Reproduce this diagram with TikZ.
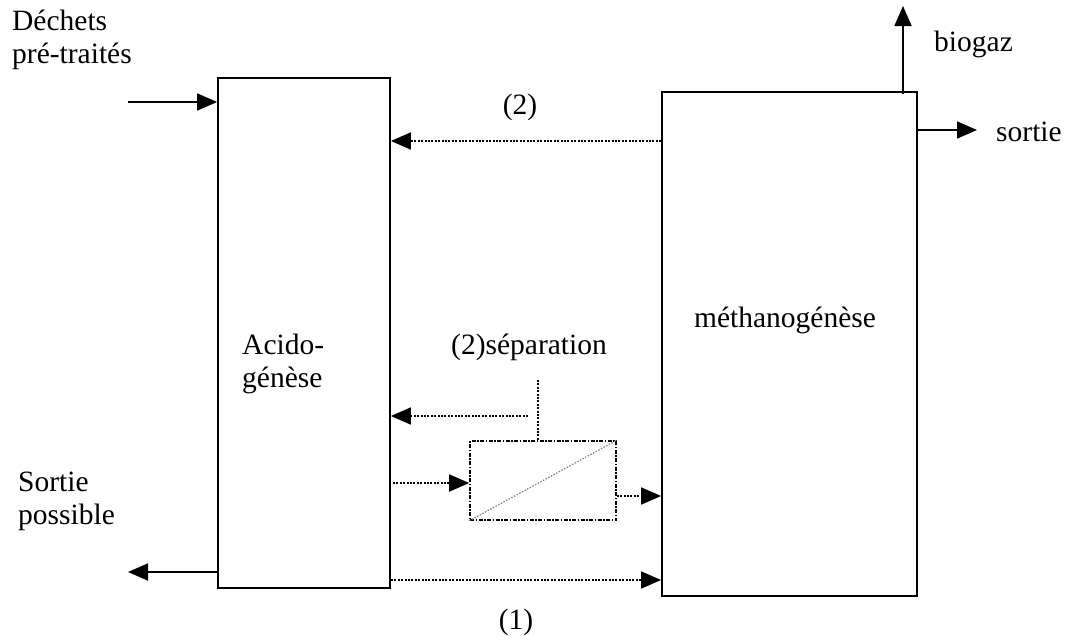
\documentclass[tikz,border=0pt]{standalone}
\usepackage{fontspec}
\setmainfont{Liberation Serif}
\usetikzlibrary{arrows.meta}
\begin{document}
\begin{tikzpicture}[x=1pt,y=-1pt,
  lbl/.style={font=\fontsize{29.5}{33}\selectfont, inner sep=0pt, align=left},
  solidline/.style={line width=1.8pt, -{Triangle[length=20pt,width=17pt]}},
  dotline/.style={line width=1.8pt, dash pattern=on 2pt off 1.4pt, -{Triangle[length=20pt,width=17pt]}},
  box/.style={draw, line width=1.8pt, inner sep=0pt}]
\useasboundingbox (0,0) rectangle (1071,637);
% boxes
\node[box, minimum width=172pt, minimum height=510pt] (acido) at (304,333) {};
\node[box, minimum width=255pt, minimum height=504pt] (metha) at (789.5,344) {};
\node[draw, line width=1.6pt, dash pattern=on 4pt off 1.5pt on 1.5pt off 1.5pt, minimum width=146pt, minimum height=79pt, inner sep=0pt] (sep) at (543,480.5) {};
\draw[gray, line width=1.2pt, dash pattern=on 1.5pt off 1.5pt] (sep.south west) -- (sep.north east);
% texts
\node[lbl, anchor=north west] (acidotxt) at (242,334) {Acido-\\génèse};
\node[lbl] (methatxt) at (785,320) {méthanogénèse};
\node[lbl, anchor=north west] (dechets) at (12,10) {Déchets\\pré-traités};
\node[lbl, anchor=north west] (sortiep) at (18,472) {Sortie\\possible};
\node[lbl, anchor=west] (biogaz) at (934,44) {biogaz};
\node[lbl, anchor=west] (sortie) at (996,132) {sortie};
\node[lbl] (two) at (520,107) {(2)};
\node[lbl] (one) at (516,622) {(1)};
\node[lbl] (septxt) at (529,347) {(2)séparation};
% coordinates
\coordinate (inS) at (128,102);
\coordinate (outS) at (128,572);
\coordinate (bioE) at (903,6);
\coordinate (sortE) at (977,130);
\coordinate (sepTop) at (538,380);
\coordinate (sepL) at (528,416);
\coordinate (midL) at (393,483);
% solid arrows
\draw[solidline] (inS) -- (inS -| acido.west);
\draw[solidline] (outS -| acido.west) -- (outS);
\draw[solidline] (bioE |- metha.north) ++(0,3) -- (bioE);
\draw[solidline] (sortE -| metha.east) -- (sortE);
% dotted arrows
\draw[dotline] (metha.west |- 0,141) -- (acido.east |- 0,141);
\draw[dotline, -] (sepTop) -- (sepTop |- sep.north);
\draw[dotline] (sepL) -- (acido.east |- sepL);
\draw[dotline] (midL) -- (sep.west |- midL);
\draw[dotline] (sep.east |- 0,496) -- (metha.west |- 0,496);
\draw[dotline] (acido.east |- 0,580) -- (metha.west |- 0,580);
\end{tikzpicture}
\end{document}
